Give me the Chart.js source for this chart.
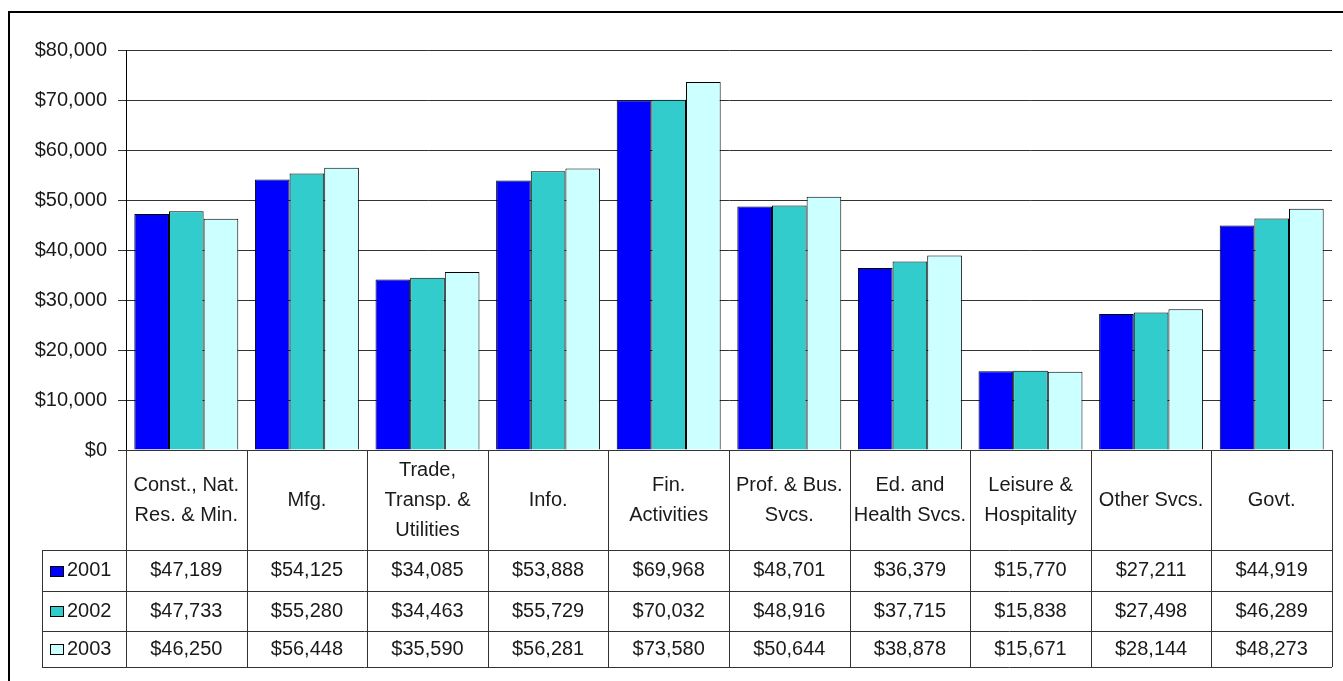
<!DOCTYPE html>
<html>
<head>
<meta charset="utf-8">
<script src="https://cdn.jsdelivr.net/npm/chart.js@4.4.1/dist/chart.umd.min.js"></script>
<style>
  html, body { margin: 0; padding: 0; background: #fff; }
  canvas { display: block; }
</style>
</head>
<body>
<canvas id="wages" width="1343" height="681"></canvas>
<script>
const CATEGORIES = [
    ['Const., Nat.', 'Res. & Min.'],
    ['Mfg.'],
    ['Trade,', 'Transp. &', 'Utilities'],
    ['Info.'],
    ['Fin.', 'Activities'],
    ['Prof. & Bus.', 'Svcs.'],
    ['Ed. and', 'Health Svcs.'],
    ['Leisure &', 'Hospitality'],
    ['Other Svcs.'],
    ['Govt.']
];
const YEARS = ['2001', '2002', '2003'];
const WAGES_2001 = [47189, 54125, 34085, 53888, 69968, 48701, 36379, 15770, 27211, 44919];
const WAGES_2002 = [47733, 55280, 34463, 55729, 70032, 48916, 37715, 15838, 27498, 46289];
const WAGES_2003 = [46250, 56448, 35590, 56281, 73580, 50644, 38878, 15671, 28144, 48273];
const Y_TICKS = [0, 10000, 20000, 30000, 40000, 50000, 60000, 70000, 80000];

const SERIES = [WAGES_2001, WAGES_2002, WAGES_2003];
const COLORS = ['#0000ff', '#33cccc', '#ccffff'];

const FONT = '"Liberation Sans", Arial, sans-serif';
const INK = '#1a1a1a';
const RULE = '#333333';
const money = v => '$' + Number(v).toLocaleString('en-US');

// excel-style data table under the plot
const HEADER_H = 100;
const ROW_BOTTOMS = [41, 81, 117];   // below the header row
const LEGEND_LEFT = 42;
const LINE_H = 30;

const px = v => Math.round(v) + 0.5;

const dataTable = {
    id: 'dataTable',
    beforeDraw(chart) {
        const { ctx } = chart;
        ctx.save();
        ctx.fillStyle = '#fff';
        ctx.fillRect(0, 0, chart.width, chart.height);
        ctx.strokeStyle = '#000';
        ctx.lineWidth = 2;
        ctx.strokeRect(9, 12, chart.width, chart.height);
        ctx.restore();
    },
    afterDraw(chart) {
        const { ctx, chartArea: { left, right, bottom } } = chart;
        const x = chart.scales.x;
        const step = (right - left) / CATEGORIES.length;
        const head = bottom + HEADER_H;
        const rows = [head, ...ROW_BOTTOMS.map(o => head + o)];
        const end = rows[rows.length - 1];

        ctx.save();
        ctx.strokeStyle = RULE;
        ctx.lineWidth = 1;
        ctx.beginPath();
        for (let i = 0; i <= CATEGORIES.length; i++) {
            const cx = px(left + i * step);
            ctx.moveTo(cx, bottom); ctx.lineTo(cx, end);
        }
        ctx.moveTo(px(LEGEND_LEFT), head); ctx.lineTo(px(LEGEND_LEFT), end);
        ctx.moveTo(left, px(bottom)); ctx.lineTo(right, px(bottom));
        rows.forEach(y => { ctx.moveTo(LEGEND_LEFT, px(y)); ctx.lineTo(right, px(y)); });
        ctx.stroke();

        ctx.fillStyle = INK;
        ctx.font = '20px ' + FONT;
        ctx.textAlign = 'center';
        ctx.textBaseline = 'middle';

        const mid = (bottom + head) / 2;
        CATEGORIES.forEach((lines, i) => {
            const cx = x.getPixelForValue(i);
            const y0 = mid - (lines.length - 1) * LINE_H / 2;
            lines.forEach((t, k) => ctx.fillText(t, cx, y0 + k * LINE_H));
        });

        SERIES.forEach((vals, r) => {
            const cy = (rows[r] + rows[r + 1]) / 2;
            vals.forEach((v, i) => ctx.fillText(money(v), x.getPixelForValue(i), cy));

            ctx.fillStyle = COLORS[r];
            ctx.fillRect(50, Math.round(cy) - 5, 14, 11);
            ctx.strokeStyle = '#000';
            ctx.strokeRect(50.5, Math.round(cy) - 4.5, 13, 10);
            ctx.fillStyle = INK;
            ctx.textAlign = 'left';
            ctx.fillText(YEARS[r], 67, cy);
            ctx.textAlign = 'center';
        });
        ctx.restore();
    }
};

new Chart(document.getElementById('wages'), {
    type: 'bar',
    data: {
        labels: CATEGORIES,
        datasets: SERIES.map((data, i) => ({
            label: YEARS[i],
            data,
            backgroundColor: COLORS[i],
            borderColor: '#000',
            borderWidth: 1,
            categoryPercentage: 0.862,
            barPercentage: 1
        }))
    },
    options: {
        responsive: false,
        animation: false,
        events: [],
        layout: { padding: { top: 50, right: 11, bottom: 231, left: 0 } },
        plugins: { legend: { display: false }, tooltip: { enabled: false } },
        scales: {
            x: { display: false },
            y: {
                min: 0,
                max: 80000,
                afterBuildTicks: s => { s.ticks = Y_TICKS.map(value => ({ value })); },
                afterFit: s => { s.width = 126; },
                ticks: { color: INK, padding: 11, font: { family: FONT, size: 20 }, callback: v => money(v) },
                grid: { color: RULE, lineWidth: 1, tickLength: 8 },
                border: { display: true, color: '#000', width: 1 }
            }
        }
    },
    plugins: [dataTable]
});
</script>
</body>
</html>
